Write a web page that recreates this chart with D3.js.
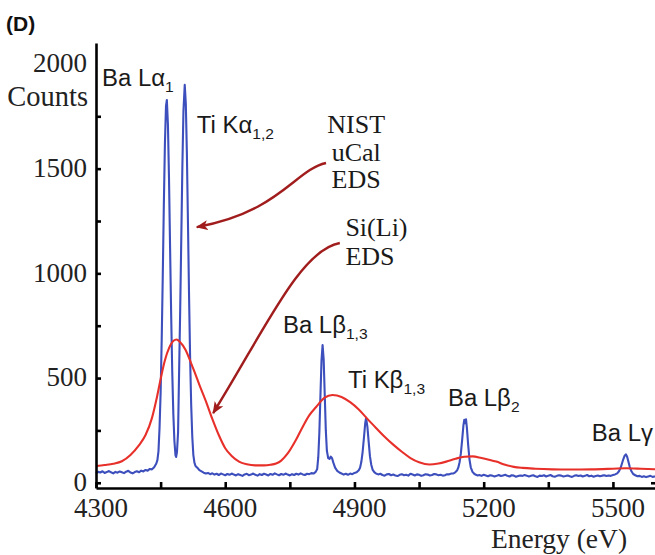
<!DOCTYPE html>
<html>
<head>
<meta charset="utf-8">
<script src="https://cdn.jsdelivr.net/npm/d3@7"></script>
<style>
  body { margin: 0; background: #fff; }
  svg { display: block; }
</style>
</head>
<body>
<svg id="chart" width="655" height="555"></svg>
<script>
// Microcalorimeter (NIST uCal EDS) spectrum: [energy eV, counts]
const nistSpectrum = [
  [4300,46],[4305,52],[4310,49],[4315,55],[4320,47],[4325,51],[4330,56],[4335,50],[4340,45],[4345,52],
  [4350,48],[4355,54],[4360,50],[4365,46],[4370,53],[4375,57],[4380,49],[4385,45],[4390,51],[4395,55],
  [4400,50],[4405,58],[4410,54],[4415,61],[4420,58],[4425,66],[4430,64],[4435,74],[4440,92],[4442.5,108],
  [4445,150],[4447.5,262],[4450,430],[4452.5,680],[4455,990],[4457.5,1330],[4460,1620],[4462.5,1800],[4464.5,1828],
  [4467,1710],[4469.5,1450],[4472,1120],[4474.5,800],[4477,530],[4479.5,330],[4482,200],[4484.5,132],[4486,123],
  [4488,148],[4490.5,240],[4493,540],[4495.5,830],[4498,1170],[4500.5,1510],[4503,1775],[4506,1900],[4508.5,1810],
  [4511,1570],[4513.5,1240],[4516,895],[4518.5,595],[4521,370],[4523.5,220],[4526,132],[4528.5,96],[4531,80],
  [4534,74],[4537,68],[4540,60],[4545,54],[4550,48],[4555,44],[4560,47],[4565,41],[4570,45],[4575,39],
  [4580,43],[4585,37],[4590,44],[4595,40],[4600,36],[4605,42],[4610,38],[4615,44],[4620,39],[4625,35],
  [4630,41],[4635,37],[4640,33],[4645,40],[4650,43],[4655,36],[4660,39],[4665,44],[4670,38],[4675,34],
  [4680,41],[4685,37],[4690,43],[4695,39],[4700,35],[4705,42],[4710,38],[4715,45],[4720,40],[4725,36],
  [4730,42],[4735,38],[4740,44],[4745,39],[4750,35],[4755,41],[4760,37],[4765,43],[4770,39],[4775,45],
  [4780,40],[4785,37],[4790,43],[4795,41],[4800,46],[4805,44],[4810,52],[4813.5,66],[4816,122],[4818.5,240],
  [4821,415],[4823.5,585],[4826,658],[4828.5,590],[4831,420],[4833.5,250],[4836,152],[4839,118],[4842,114],
  [4845,125],[4848,117],[4851,96],[4855,72],[4860,57],[4865,49],[4870,44],[4875,39],[4880,43],[4885,38],
  [4890,44],[4895,41],[4900,47],[4905,50],[4910,60],[4913,72],[4916,100],[4919,148],[4922,215],[4925,285],
  [4927,310],[4930,268],[4933,195],[4936,126],[4939,86],[4942,63],[4946,51],[4950,44],[4955,40],[4960,43],
  [4965,37],[4970,34],[4975,40],[4980,42],[4985,36],[4990,39],[4995,35],[5000,32],[5005,38],[5010,41],
  [5015,36],[5020,38],[5025,34],[5030,43],[5035,39],[5040,35],[5045,40],[5050,38],[5055,33],[5060,36],
  [5065,41],[5070,39],[5075,35],[5080,37],[5085,42],[5090,40],[5095,36],[5100,38],[5105,34],[5110,36],
  [5115,41],[5120,40],[5125,44],[5130,45],[5134,50],[5138,58],[5141,72],[5144,98],[5147,140],[5150,205],
  [5153,275],[5155,301],[5157,284],[5159,303],[5161,262],[5164,180],[5167,112],[5170,74],[5174,52],[5178,43],
  [5182,38],[5186,35],[5190,37],[5195,33],[5200,38],[5205,35],[5210,31],[5215,36],[5220,34],[5225,30],
  [5230,33],[5235,37],[5240,32],[5245,35],[5250,38],[5255,33],[5260,30],[5265,36],[5270,34],[5275,29],
  [5280,32],[5285,35],[5290,33],[5295,37],[5300,34],[5305,30],[5310,33],[5315,36],[5320,31],[5325,28],
  [5330,34],[5335,32],[5340,36],[5345,30],[5350,34],[5355,37],[5360,31],[5365,29],[5370,33],[5375,36],
  [5380,34],[5385,30],[5390,32],[5395,35],[5400,31],[5405,28],[5410,33],[5415,36],[5420,32],[5425,35],
  [5430,30],[5435,33],[5440,37],[5445,31],[5450,34],[5455,29],[5460,32],[5465,35],[5470,31],[5475,34],
  [5480,36],[5485,32],[5490,35],[5495,33],[5500,37],[5505,40],[5510,45],[5514,55],[5518,72],[5521,92],
  [5524,112],[5527,128],[5530,136],[5533,124],[5536,100],[5539,76],[5543,55],[5547,42],[5552,36],[5557,31],
  [5562,33],[5567,28],[5572,31],[5577,27],[5582,30],[5587,33],[5592,28],[5597,30],[5600,29]
];

// Si(Li) EDS spectrum of the same specimen: [energy eV, counts]
const siliSpectrum = [
  [4300,80],[4320,85],[4340,91],[4360,103],[4380,133],[4400,180],[4415,228],[4430,310],[4440,395],
  [4450,495],[4460,585],[4470,645],[4480,678],[4487,684],[4495,672],[4508,634],[4520,575],[4530,522],
  [4540,468],[4555,390],[4570,305],[4585,228],[4600,165],[4615,128],[4633,100],[4650,88],[4670,83],
  [4690,83],[4705,86],[4718,92],[4730,106],[4745,140],[4764,204],[4780,268],[4795,322],[4811,362],
  [4830,405],[4849,419],[4870,410],[4890,385],[4910,350],[4930,305],[4950,262],[4970,220],[4990,182],
  [5010,148],[5030,118],[5050,98],[5074,87],[5095,92],[5113,101],[5135,115],[5155,124],
  [5174,126],[5195,118],[5212,110],[5229,101],[5250,86],[5270,76],[5290,71],[5320,67],[5360,64],
  [5400,63],[5450,64],[5500,67],[5530,69],[5565,67],[5600,64]
];

const yTickValues = [0, 250, 500, 750, 1000, 1250, 1500, 1750];
const yLabelValues = [0, 500, 1000, 1500, 2000];
const xTickValues = [4300, 4450, 4600, 4750, 4900, 5050, 5200, 5350, 5500];
const xLabelValues = [4300, 4600, 4900, 5200, 5500];

// Line identifications, anchored in data units (energy, counts)
const peakLabels = [
  { main: "Ba L\u03B1", sub: "1",   e: 4314, c: 1895 },
  { main: "Ti K\u03B1", sub: "1,2", e: 4534, c: 1670 },
  { main: "Ba L\u03B2", sub: "1,3", e: 4734, c: 715 },
  { main: "Ti K\u03B2", sub: "1,3", e: 4885, c: 452 },
  { main: "Ba L\u03B2", sub: "2",   e: 5117, c: 367 },
  { main: "Ba L\u03B3", sub: "",    e: 5451, c: 199 }
];

// Detector captions and their pointer arrows (data units)
const detectorNotes = [
  { lines: ["NIST", "uCal", "EDS"], e: 4904, c: [1670, 1537, 1408], anchor: "middle" },
  { lines: ["Si(Li)", "EDS"],        e: 4879, c: [1178, 1040],       anchor: "start" }
];
const pointerArrows = [
  [[4834, 1527], [4762, 1494], [4727, 1293], [4534, 1221]],
  [[4866, 1145], [4774, 1111], [4692, 730],  [4572, 333]]
];

const svg = d3.select("#chart");
const serif = "'Liberation Serif', 'Times New Roman', serif";
const sans = "'Liberation Sans', Arial, sans-serif";

const x = d3.scaleLinear().domain([4300, 5600]).range([96, 656]);
const y = d3.scaleLinear().domain([-25, 2100]).range([488, 43]);

// Spectra
const line = d3.line().x(d => x(d[0])).y(d => y(d[1]));
svg.append("path")
  .datum(nistSpectrum)
  .attr("d", line)
  .attr("fill", "none")
  .attr("stroke", "#3d4fbc")
  .attr("stroke-width", 2.1)
  .attr("stroke-linejoin", "round");

svg.append("path")
  .datum(siliSpectrum)
  .attr("d", line.curve(d3.curveMonotoneX))
  .attr("fill", "none")
  .attr("stroke", "#e8302a")
  .attr("stroke-width", 2.1);

// Axes: ticks point into the plot
const yTicks = svg.append("g")
  .attr("transform", `translate(${x(4300)},0)`)
  .call(d3.axisLeft(y).tickValues(yTickValues).tickSizeInner(-5).tickSizeOuter(0).tickFormat(""));
const xTicks = svg.append("g")
  .attr("transform", `translate(0,${y.range()[0]})`)
  .call(d3.axisBottom(x).tickValues(xTickValues).tickSizeInner(-6).tickSizeOuter(0).tickFormat(""));
const rTicks = svg.append("g")
  .attr("transform", `translate(${x(5600)},0)`)
  .call(d3.axisRight(y).tickValues([0]).tickSizeInner(-5).tickSizeOuter(0).tickFormat(""));
rTicks.select(".domain").remove();
[yTicks, xTicks, rTicks].forEach(g => {
  g.selectAll(".domain, .tick line").attr("stroke", "#000").attr("stroke-width", 2.6);
});

// Tick labels
svg.append("g").selectAll("text")
  .data(yLabelValues)
  .join("text")
  .attr("x", 87)
  .attr("y", d => y(d))
  .attr("dy", "0.31em")
  .attr("text-anchor", "end")
  .attr("font-family", serif)
  .attr("font-size", 27)
  .attr("fill", "#222")
  .text(d => d);

svg.append("g").selectAll("text")
  .data(xLabelValues)
  .join("text")
  .attr("x", d => x(d) + 5)
  .attr("y", 517)
  .attr("text-anchor", "middle")
  .attr("font-family", serif)
  .attr("font-size", 27)
  .attr("fill", "#222")
  .text(d => d);

// Axis titles
svg.append("text")
  .attr("x", 88).attr("y", 106)
  .attr("text-anchor", "end")
  .attr("font-family", serif).attr("font-size", 28.5).attr("fill", "#222")
  .text("Counts");
svg.append("text")
  .attr("x", 559).attr("y", 548)
  .attr("text-anchor", "middle")
  .attr("font-family", serif).attr("font-size", 27.5).attr("fill", "#222")
  .text("Energy (eV)");

// Panel letter
svg.append("text")
  .attr("x", 6).attr("y", 31)
  .attr("font-family", sans).attr("font-weight", "bold").attr("font-size", 21).attr("fill", "#111")
  .text("(D)");

// Peak identifications (slightly widened face)
const labels = svg.append("g").selectAll("text")
  .data(peakLabels)
  .join("text")
  .attr("transform", d => `translate(${x(d.e)},${y(d.c)}) scale(1.04,1)`)
  .attr("font-family", sans)
  .attr("font-size", 23)
  .attr("fill", "#1a1a1a");
labels.append("tspan").text(d => d.main);
labels.append("tspan")
  .attr("font-size", 15)
  .attr("dy", 6)
  .text(d => d.sub);

// Detector captions
detectorNotes.forEach(n => {
  svg.append("g").selectAll("text")
    .data(n.lines)
    .join("text")
    .attr("x", x(n.e))
    .attr("y", (d, i) => y(n.c[i]))
    .attr("text-anchor", n.anchor)
    .attr("font-family", serif)
    .attr("font-size", 26)
    .attr("fill", "#1a1a1a")
    .text(d => d);
});

// Pointer arrows
const arrowColor = "#a11d1d";
svg.append("defs").append("marker")
  .attr("id", "arrowhead")
  .attr("viewBox", "0 0 12 10")
  .attr("refX", 11).attr("refY", 5)
  .attr("markerWidth", 12).attr("markerHeight", 10)
  .attr("markerUnits", "userSpaceOnUse")
  .attr("orient", "auto")
  .append("path")
  .attr("d", "M0,0 L12,5 L0,10 L3,5 Z")
  .attr("fill", arrowColor);

svg.append("g").selectAll("path")
  .data(pointerArrows)
  .join("path")
  .attr("d", p => {
    const q = p.map(d => [x(d[0]), y(d[1])]);
    return `M${q[0]}C${q[1]} ${q[2]} ${q[3]}`;
  })
  .attr("fill", "none")
  .attr("stroke", arrowColor)
  .attr("stroke-width", 2.4)
  .attr("marker-end", "url(#arrowhead)");
</script>
</body>
</html>
